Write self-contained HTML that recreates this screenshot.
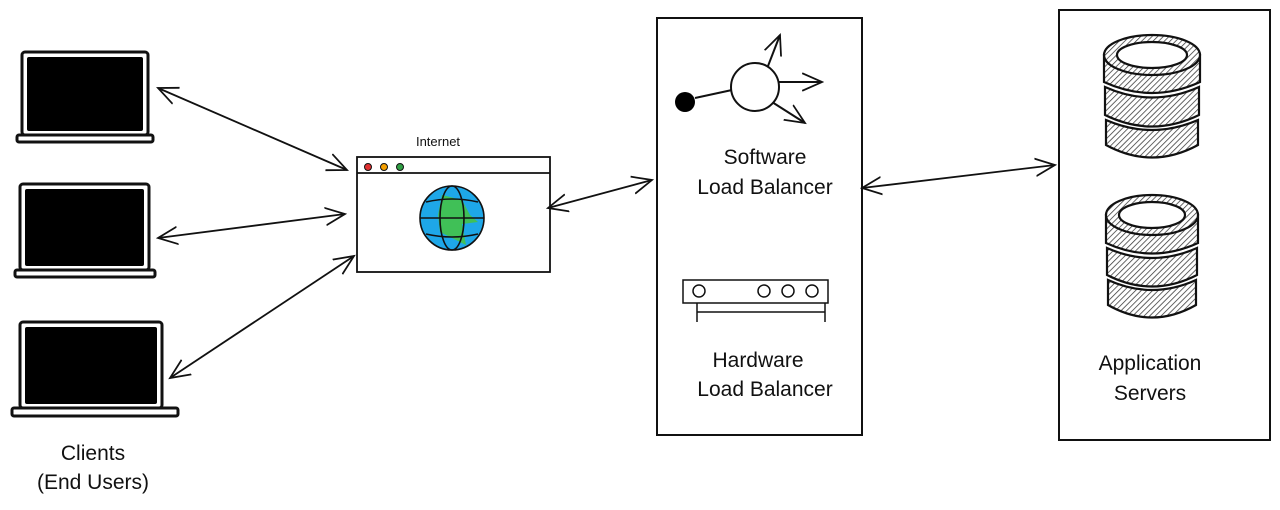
<!DOCTYPE html>
<html><head><meta charset="utf-8"><style>
html,body{margin:0;padding:0;background:#fff;width:1280px;height:510px;overflow:hidden}
text{font-family:"Liberation Sans",sans-serif;fill:#111}
</style></head><body>
<svg width="1280" height="510" viewBox="0 0 1280 510" xmlns="http://www.w3.org/2000/svg">
<defs>
<pattern id="h" width="4" height="4" patternUnits="userSpaceOnUse" patternTransform="rotate(45)">
<rect width="4" height="4" fill="#fff"/><line x1="0" y1="0" x2="0" y2="4" stroke="#333" stroke-width="1.5"/></pattern>
<marker id="a" viewBox="0 0 20 20" refX="18" refY="10" markerWidth="22" markerHeight="22" markerUnits="userSpaceOnUse" orient="auto-start-reverse">
<path d="M0,2 L18,10 L0,18" fill="none" stroke="#111" stroke-width="1.6"/></marker>
</defs>
<g stroke="#111" stroke-width="3" fill="#fff">
<rect x="22" y="52" width="126" height="83" rx="3"/><rect x="27" y="57" width="116" height="74" rx="2" fill="#000" stroke="none"/>
<rect x="17" y="135" width="136" height="7" rx="2"/>
<rect x="20" y="184" width="129" height="86" rx="3"/><rect x="25" y="189" width="119" height="77" rx="2" fill="#000" stroke="none"/>
<rect x="15" y="270" width="140" height="7" rx="2"/>
<rect x="20" y="322" width="142" height="86" rx="3"/><rect x="25" y="327" width="132" height="77" rx="2" fill="#000" stroke="none"/>
<rect x="12" y="408" width="166" height="8" rx="2"/>
</g>
<g stroke="#111" stroke-width="1.8" fill="none">
<rect x="357" y="157" width="193" height="115" fill="#fff"/>
<line x1="357" y1="173" x2="550" y2="173"/>
</g>
<circle cx="368" cy="167" r="3.5" fill="#e03131" stroke="#111"/>
<circle cx="384" cy="167" r="3.5" fill="#f59f00" stroke="#111"/>
<circle cx="400" cy="167" r="3.5" fill="#2f9e44" stroke="#111"/>
<circle cx="452" cy="218" r="32" fill="#1ea7e8" stroke="#111" stroke-width="1.6"/>
<path d="M442,195 L462,200 L470,215 L478,222 L462,224 L466,245 L452,238 L440,232 L438,215 Z" fill="#40c057" stroke="none"/>
<g stroke="#111" stroke-width="1.6" fill="none">
<ellipse cx="452" cy="218" rx="12" ry="32"/><line x1="420" y1="218" x2="484" y2="218"/>
<path d="M426,202 Q452,196 478,202 M426,234 Q452,240 478,234"/>
</g>
<text x="438" y="146" font-size="13" text-anchor="middle">Internet</text>
<g stroke="#111" stroke-width="1.8" fill="none" marker-start="url(#a)" marker-end="url(#a)">
<line x1="158" y1="88" x2="347" y2="170"/>
<line x1="158" y1="238" x2="345" y2="214"/>
<line x1="170" y1="378" x2="354" y2="256"/>
<line x1="548" y1="208" x2="652" y2="180"/>
<line x1="862" y1="188" x2="1055" y2="165"/>
</g>
<rect x="657" y="18" width="205" height="417" fill="none" stroke="#111" stroke-width="2"/>
<g stroke="#111" stroke-width="2" fill="none">
<line x1="695" y1="98" x2="732" y2="90"/>
<line x1="768" y1="66" x2="780" y2="35" marker-end="url(#a)"/>
<line x1="779" y1="82" x2="822" y2="82" marker-end="url(#a)"/>
<line x1="772" y1="102" x2="805" y2="123" marker-end="url(#a)"/>
</g>
<circle cx="685" cy="102" r="10" fill="#000"/>
<circle cx="755" cy="87" r="24" fill="#fff" stroke="#111" stroke-width="2"/>
<text x="765" y="164" font-size="21" text-anchor="middle">Software</text>
<text x="765" y="194" font-size="21" text-anchor="middle">Load Balancer</text>
<g stroke="#111" stroke-width="1.5" fill="none">
<rect x="683" y="280" width="145" height="23"/>
<circle cx="699" cy="291" r="6"/><circle cx="764" cy="291" r="6"/><circle cx="788" cy="291" r="6"/><circle cx="812" cy="291" r="6"/>
<line x1="697" y1="303" x2="697" y2="322"/><line x1="825" y1="303" x2="825" y2="322"/>
<line x1="697" y1="312" x2="825" y2="312"/>
</g>
<text x="758" y="367" font-size="21" text-anchor="middle">Hardware</text>
<text x="765" y="396" font-size="21" text-anchor="middle">Load Balancer</text>
<rect x="1059" y="10" width="211" height="430" fill="none" stroke="#111" stroke-width="2"/>
<g stroke="#111" stroke-width="2.2" fill="url(#h)">
<path d="M1106,120 L1106,145 Q1152,170 1198,145 L1198,120 Q1152,140 1106,120 Z"/>
<path d="M1105,87 L1105,115 Q1152,138 1199,115 L1199,87 Q1152,108 1105,87 Z"/>
<path d="M1104,55 L1104,82 Q1152,104 1200,82 L1200,55 Z"/>
<ellipse cx="1152" cy="55" rx="48" ry="20"/>
<ellipse cx="1152" cy="55" rx="35" ry="13" fill="#fff"/>
<path d="M1108,280 L1108,305 Q1152,330 1196,305 L1196,280 Q1152,300 1108,280 Z"/>
<path d="M1107,248 L1107,275 Q1152,298 1197,275 L1197,248 Q1152,268 1107,248 Z"/>
<path d="M1106,215 L1106,243 Q1152,264 1198,243 L1198,215 Z"/>
<ellipse cx="1152" cy="215" rx="46" ry="20"/>
<ellipse cx="1152" cy="215" rx="33" ry="13" fill="#fff"/>
</g>
<text x="1150" y="370" font-size="21" text-anchor="middle">Application</text>
<text x="1150" y="400" font-size="21" text-anchor="middle">Servers</text>
<text x="93" y="460" font-size="21" text-anchor="middle">Clients</text>
<text x="93" y="489" font-size="21" text-anchor="middle">(End Users)</text>
</svg>
</body></html>
